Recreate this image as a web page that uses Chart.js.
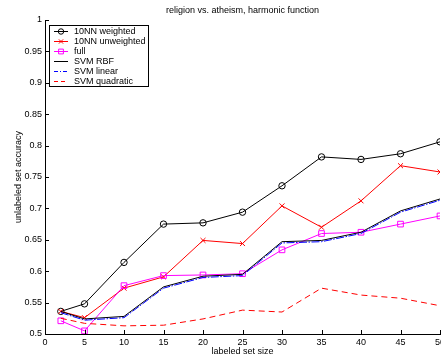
<!DOCTYPE html>
<html>
<head>
<meta charset="utf-8">
<script src="https://cdn.jsdelivr.net/npm/chart.js@4/dist/chart.umd.min.js"></script>
<style>
  html, body { margin: 0; padding: 0; background: #fff; }
  #wrap { width: 441px; height: 362px; }
</style>
</head>
<body>
<div id="wrap"><canvas id="c" width="441" height="362"></canvas></div>
<script>
// Labeled set sizes on the x axis
const sizes = [2, 5, 10, 15, 20, 25, 30, 35, 40, 45, 50];

// Unlabeled set accuracy per method
const nnWeighted   = [0.536, 0.548, 0.614, 0.675, 0.677, 0.694, 0.736, 0.782, 0.778, 0.787, 0.806];
const nnUnweighted = [0.536, 0.526, 0.573, 0.591, 0.649, 0.644, 0.704, 0.670, 0.712, 0.768, 0.758];
const fullGraph    = [0.521, 0.505, 0.577, 0.593, 0.594, 0.596, 0.634, 0.660, 0.662, 0.675, 0.688];
const svmRbf       = [0.536, 0.524, 0.528, 0.575, 0.592, 0.595, 0.647, 0.649, 0.662, 0.696, 0.715];
const svmLinear    = [0.534, 0.522, 0.526, 0.573, 0.590, 0.593, 0.645, 0.647, 0.660, 0.694, 0.713];
const svmQuadratic = [0.525, 0.517, 0.513, 0.514, 0.524, 0.538, 0.535, 0.573, 0.562, 0.557, 0.545];

const seriesNames = ['10NN weighted', '10NN unweighted', 'full', 'SVM RBF', 'SVM linear', 'SVM quadratic'];

const titleText = 'religion vs. atheism, harmonic function';
const xTitle = 'labeled set size';
const yTitle = 'unlabeled set accuracy';

const FONT = '"Liberation Sans", Arial, Helvetica, sans-serif';

function pts(vals) { return sizes.map((x, i) => ({ x: x, y: vals[i] })); }

const styles = [
  { color: '#000000', marker: 'circle', radius: 3.2, dash: [] },
  { color: '#ff0000', marker: 'crossRot', radius: 3.5, dash: [] },
  { color: '#ff00ff', marker: 'rect', radius: 4, dash: [] },
  { color: '#000000', marker: false, radius: 0, dash: [] },
  { color: '#0000ff', marker: false, radius: 0, dash: [8, 1.5, 1.5, 1.5] },
  { color: '#ff0000', marker: false, radius: 0, dash: [6, 4] }
];
// shorter patterns for the 14px legend samples
const legendDash = [[], [], [], [], [4, 2, 1, 2], [4, 3]];
const seriesValues = [nnWeighted, nnUnweighted, fullGraph, svmRbf, svmLinear, svmQuadratic];

const datasets = seriesValues.map((vals, i) => ({
  label: seriesNames[i],
  data: pts(vals),
  borderColor: styles[i].color,
  backgroundColor: 'rgba(0,0,0,0)',
  borderWidth: 1,
  borderDash: styles[i].dash,
  pointStyle: styles[i].marker || 'circle',
  pointRadius: styles[i].radius,
  pointHoverRadius: styles[i].radius,
  pointBorderColor: styles[i].color,
  pointBorderWidth: 1,
  pointBackgroundColor: 'rgba(0,0,0,0)',
  tension: 0,
  fill: false,
  // later series are painted over earlier ones
  order: seriesValues.length - i
}));

// Inward tick marks, title, axis titles and boxed legend
const decorations = {
  id: 'decorations',
  afterDraw(chart) {
    const ctx = chart.ctx;
    const area = chart.chartArea;
    const xs = chart.scales.x, ys = chart.scales.y;
    ctx.save();
    ctx.strokeStyle = '#000';
    ctx.lineWidth = 1;
    ctx.beginPath();
    xs.ticks.forEach((t, i) => {
      const px = Math.round(xs.getPixelForTick(i)) + 0.5;
      ctx.moveTo(px, area.bottom);
      ctx.lineTo(px, area.bottom - 4);
    });
    ys.ticks.forEach((t, i) => {
      const py = Math.round(ys.getPixelForTick(i)) + 0.5;
      ctx.moveTo(area.left, py);
      ctx.lineTo(area.left + 4, py);
    });
    ctx.stroke();

    // titles
    ctx.fillStyle = '#000';
    ctx.font = '9px ' + FONT;
    ctx.textAlign = 'center';
    ctx.textBaseline = 'middle';
    const cx = (area.left + area.right) / 2;
    ctx.fillText(titleText, cx, 11);
    ctx.fillText(xTitle, cx, 351.5);
    ctx.save();
    ctx.translate(18.5, (area.top + area.bottom) / 2);
    ctx.rotate(-Math.PI / 2);
    ctx.fillText(yTitle, 0, 0);
    ctx.restore();

    // legend box
    const bx = 49.5, by = 25.5, bw = 99, bh = 61;
    ctx.fillStyle = '#fff';
    ctx.fillRect(bx, by, bw, bh);
    ctx.strokeStyle = '#000';
    ctx.lineWidth = 1;
    ctx.setLineDash([]);
    ctx.strokeRect(bx, by, bw, bh);
    for (let i = 0; i < seriesNames.length; i++) {
      const yy = 31.5 + i * 10;
      ctx.save();
      ctx.beginPath();
      ctx.lineWidth = 1;
      ctx.strokeStyle = styles[i].color;
      ctx.setLineDash(legendDash[i]);
      ctx.moveTo(54, yy);
      ctx.lineTo(68, yy);
      ctx.stroke();
      ctx.restore();
      if (styles[i].marker) {
        ctx.save();
        ctx.lineWidth = 1;
        ctx.setLineDash([]);
        ctx.fillStyle = 'rgba(0,0,0,0)';
        ctx.strokeStyle = styles[i].color;
        Chart.helpers.drawPoint(ctx, {
          pointStyle: styles[i].marker, radius: styles[i].radius * 0.85, borderWidth: 1, rotation: 0
        }, 61, yy);
        ctx.restore();
      }
      ctx.fillStyle = '#000';
      ctx.font = '9px ' + FONT;
      ctx.textAlign = 'left';
      ctx.textBaseline = 'middle';
      ctx.fillText(seriesNames[i], 74, yy);
    }
    ctx.restore();
  }
};

new Chart(document.getElementById('c'), {
  type: 'line',
  data: { datasets: datasets },
  options: {
    responsive: false,
    animation: false,
    devicePixelRatio: 1,
    layout: { autoPadding: false, padding: { top: 20, right: 1, left: 0, bottom: 0 } },
    plugins: {
      legend: { display: false },
      title: { display: false },
      tooltip: { enabled: false }
    },
    scales: {
      x: {
        type: 'linear',
        min: 0, max: 50,
        ticks: { stepSize: 5, color: '#000', padding: 3, font: { family: FONT, size: 9 }, maxRotation: 0, autoSkip: false },
        grid: { display: true, drawOnChartArea: false, drawTicks: false },
        border: { display: true, color: '#000', width: 1 },
        afterFit(s) { s.height = 28; s.paddingLeft = 0; s.paddingRight = 0; }
      },
      y: {
        type: 'linear',
        min: 0.5, max: 1,
        ticks: { stepSize: 0.05, color: '#000', padding: 3, font: { family: FONT, size: 9 },
          callback: v => String(Math.round(v * 100) / 100) },
        grid: { display: true, drawOnChartArea: false, drawTicks: false },
        border: { display: true, color: '#000', width: 1 },
        afterFit(s) { s.width = 45; s.paddingTop = 0; s.paddingBottom = 0; }
      }
    }
  },
  plugins: [decorations]
});
</script>
</body>
</html>
